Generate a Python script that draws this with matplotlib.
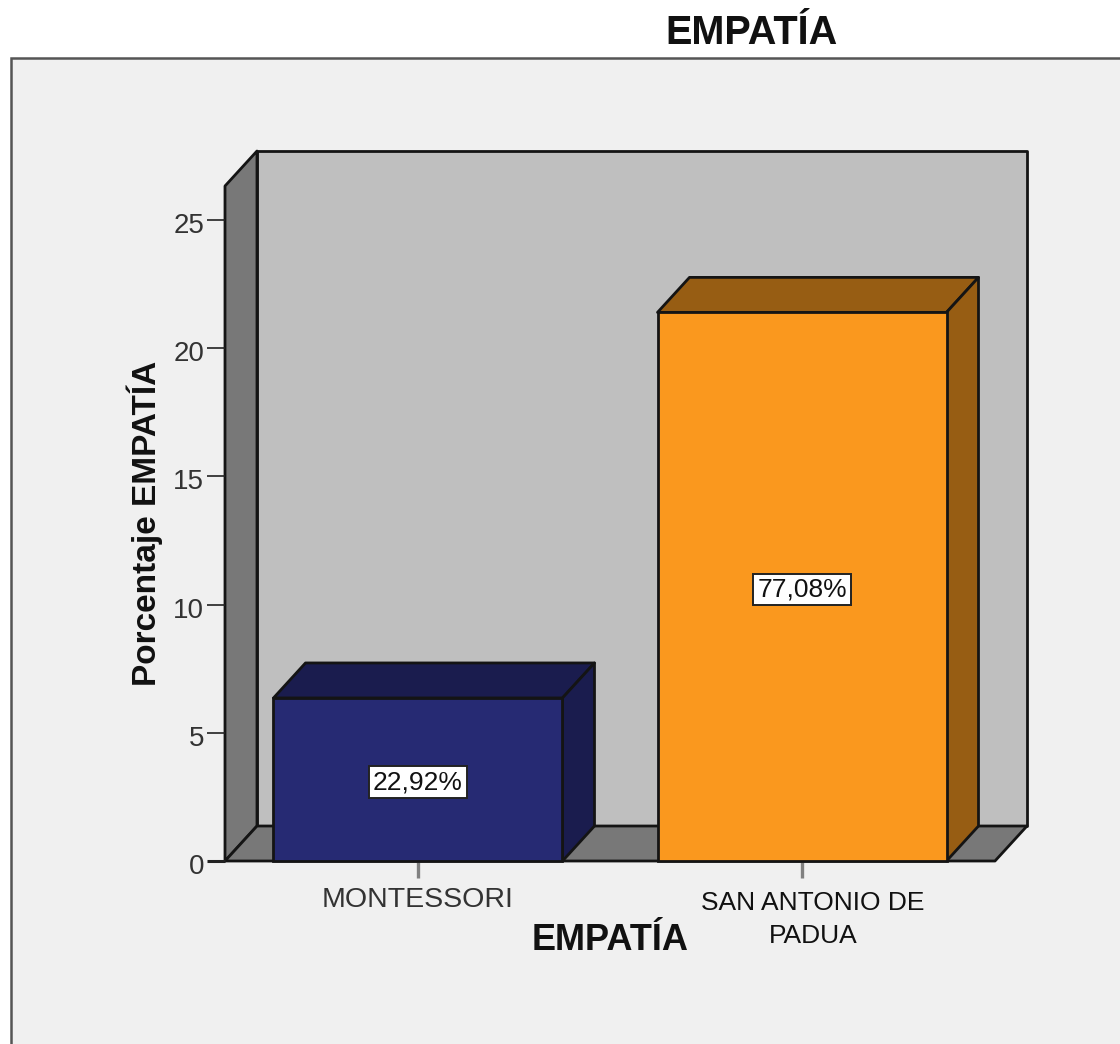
import matplotlib
matplotlib.use("Agg")
import matplotlib.pyplot as plt
from matplotlib.patches import Rectangle
from matplotlib.transforms import ScaledTranslation

plt.rcParams['font.family'] = ['Liberation Sans', 'DejaVu Sans']

categories = ['MONTESSORI', 'SAN ANTONIO DE\nPADUA']
values = [6.36, 21.4]
percent_labels = ['22,92%', '77,08%']
y_ticks = [0, 5, 10, 15, 20, 25]
front_colors = ['#262a73', '#fa981e']
dark_colors = ['#1a1c4e', '#975d13']

W, H = 1120, 1044
EDGE = '#141414'
LW = 2.0

fig = plt.figure(figsize=(W / 100, H / 100), dpi=100, facecolor='white')

# grey panel, its right and bottom edges run off the picture
fig.add_artist(Rectangle((11 / W, -0.1), 1.2, 1.1 - 58 / H, transform=fig.transFigure,
                         facecolor='#f0f0f0', edgecolor='#555555', linewidth=1.8, zorder=-1))

ax = fig.add_axes([225 / W, (H - 861) / H, 770 / W, 675 / H])
ax.patch.set_visible(False)
for s in ax.spines.values():
    s.set_visible(False)

x0, x1 = -0.5026, 1.5026
y0, y1 = 0, 26.33
ax.set_xlim(x0, x1)
ax.set_ylim(y0, y1)

# depth of the fake 3D box, in data units
dx = 32 / 384
dy = 35 / 25.64
bar_w = 0.7526

style = dict(edgecolor=EDGE, linewidth=LW, clip_on=False, joinstyle='round')

# back wall, left wall, floor
ax.fill([x0 + dx, x1 + dx, x1 + dx, x0 + dx], [dy, dy, y1 + dy, y1 + dy],
        facecolor='#bfbfbf', zorder=1, **style)
ax.fill([x0, x0 + dx, x0 + dx, x0], [y0, dy, y1 + dy, y1],
        facecolor='#787878', zorder=1.1, **style)
ax.fill([x0, x1, x1 + dx, x0 + dx], [y0, y0, dy, dy],
        facecolor='#787878', zorder=1.2, **style)

positions = list(range(len(categories)))
for pos, val, front, dark, lab in zip(positions, values, front_colors, dark_colors, percent_labels):
    left = pos - bar_w / 2
    right = pos + bar_w / 2
    ax.fill([left, right, right + dx, left + dx], [val, val, val + dy, val + dy],
            facecolor=dark, zorder=2, **style)
    ax.fill([right, right + dx, right + dx, right], [0, dy, val + dy, val],
            facecolor=dark, zorder=2, **style)
    ax.bar(pos, val, width=bar_w, color=front, edgecolor=EDGE, linewidth=LW, zorder=3, clip_on=False)
    ax.text(pos, val / 2 - 0.1, lab, ha='center', va='center', fontsize=19, color='#111111', zorder=4,
            bbox=dict(facecolor='white', edgecolor='#222222', linewidth=1.4, boxstyle='square,pad=0.14'))

ax.set_yticks(y_ticks)
ax.tick_params(axis='y', length=13, width=1.2, color='#222222', labelsize=20, labelcolor='#333333', pad=2)
ax.yaxis.get_major_ticks()[0].tick1line.set_color('#808080')
ax.yaxis.get_major_ticks()[0].tick1line.set_markeredgewidth(2.2)
for lab in ax.get_yticklabels():
    lab.set_transform(lab.get_transform() + ScaledTranslation(0, -0.03, fig.dpi_scale_trans))

ax.set_xticks(positions, categories)
ax.tick_params(axis='x', length=12, width=2.4, color='#808080', labelsize=19, labelcolor='#111111', pad=7)
labels = ax.get_xticklabels()
labels[0].set_color('#333333')
labels[0].set_fontsize(20.5)
labels[1].set_linespacing(1.45)
labels[1].set_transform(labels[1].get_transform() + ScaledTranslation(0.11, -0.04, fig.dpi_scale_trans))

ax.set_ylabel('Porcentaje EMPATÍA', fontsize=24, fontweight='bold', color='#111111', va='center')
ax.yaxis.set_label_coords(-0.104, 0.5)
ax.set_xlabel('EMPATÍA', fontsize=26, fontweight='bold', color='#111111', va='center')
ax.xaxis.set_label_coords(0.5, -0.118)
ax.set_title('EMPATÍA', fontsize=28.5, fontweight='bold', color='#111111', x=527 / 770, y=1.1975)

fig.savefig('out.png', dpi=100, facecolor=fig.get_facecolor())
